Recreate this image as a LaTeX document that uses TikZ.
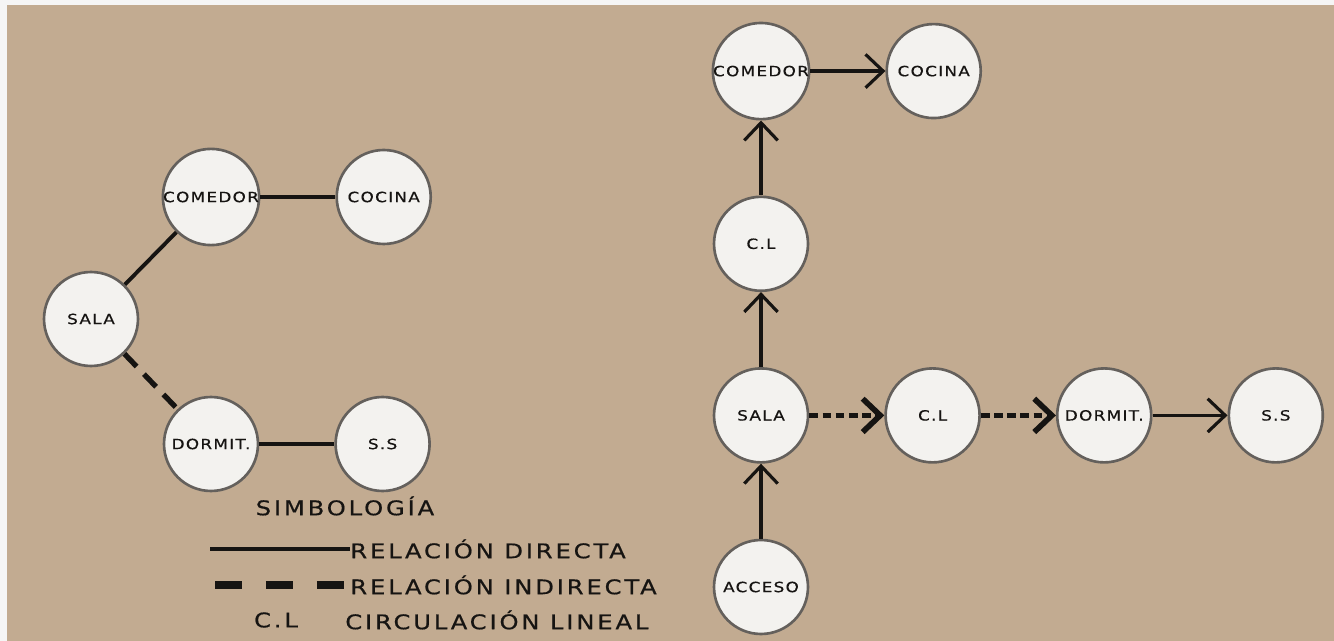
\documentclass[tikz,border=0pt]{standalone}
\usepackage{fontspec}
\usetikzlibrary{arrows.meta, positioning}
\newfontfamily\roomfont{DejaVu Sans}[FakeStretch=1.2, LetterSpace=9, FakeBold=0.6]
\newfontfamily\legendfont{DejaVu Sans}[FakeStretch=1.2, LetterSpace=14, FakeBold=0.6]
\definecolor{paper}{RGB}{194,171,145}
\definecolor{roomfill}{RGB}{243,242,239}
\definecolor{ringgray}{RGB}{100,96,92}
\definecolor{inkblack}{RGB}{22,20,18}

\begin{document}
\begin{tikzpicture}[
    x=0.02cm, y=-0.02cm, node distance=1.5cm,
    >={Straight Barb[length=10pt,width=19pt]},
    room/.style={circle, draw=ringgray, line width=1.5pt, fill=roomfill,
                 minimum size=1.88cm, inner sep=0pt, text=inkblack,
                 font=\roomfont\fontsize{8}{9.6}\selectfont},
    direct/.style={draw=inkblack, line width=2.2pt},
    indirect/.style={draw=inkblack, line width=3pt, dash pattern=on 10pt off 6pt},
    flow/.style={->, draw=inkblack, line width=1.8pt},
    dashflow/.style={-{Straight Barb[length=10pt,width=19pt,line width=3.2pt]},
                     draw=inkblack, line width=2.4pt, dash pattern=on 5pt off 2.5pt},
    legend/.style={inner sep=0pt, text=inkblack,
                   font=\legendfont\fontsize{11.5}{13}\selectfont}
  ]
  % background
  \fill[white!92!gray] (0,0) rectangle (1334,641);
  \fill[paper] (7,5) rectangle (1334,641);
  \useasboundingbox (0,0) rectangle (1334,641);

  % relation diagram (left)
  \node[room] (lsala) at (91,319) {SALA};
  \node[room] (lcomedor) at (211,197) {COMEDOR};
  \node[room, right=of lcomedor] (lcocina) {COCINA};
  \node[room] (ldormit) at (211,444) {DORMIT.};
  \node[room, right=of ldormit] (lss) {S.S};

  \draw[direct] (lsala) -- (lcomedor);
  \draw[direct] (lcomedor) -- (lcocina);
  \draw[indirect] (lsala) -- (ldormit);
  \draw[direct] (ldormit) -- (lss);

  % circulation diagram (right)
  \node[room] (acceso) at (761,587) {ACCESO};
  \node[room, above=of acceso] (sala) {SALA};
  \node[room, above=of sala] (clup) {C.L};
  \node[room, above=of clup] (comedor) {COMEDOR};
  \node[room, right=of comedor] (cocina) {COCINA};
  \node[room, right=of sala] (clmid) {C.L};
  \node[room, right=of clmid] (dormit) {DORMIT.};
  \node[room, right=of dormit] (ss) {S.S};

  \draw[flow] (acceso) -- (sala);
  \draw[flow] (sala) -- (clup);
  \draw[flow] (clup) -- (comedor);
  \draw[flow] (comedor) -- (cocina);
  \draw[dashflow] (sala) -- (clmid);
  \draw[dashflow] (clmid) -- (dormit);
  \draw[flow] (dormit) -- (ss);

  % legend
  \node[legend] (simbologia) at (345,506) {SIMBOLOGÍA};
  \coordinate (solidstart) at (210,549);
  \node[legend, anchor=west] (reldirecta) at (350,549) {RELACIÓN DIRECTA};
  \draw[inkblack, line width=1.8pt] (solidstart) -- (reldirecta.west);
  \coordinate (dashstart) at (215,585);
  \node[legend, anchor=west] (relindirecta) at (350,585) {RELACIÓN INDIRECTA};
  \draw[inkblack, line width=4pt, dash pattern=on 15.5pt off 13.5pt]
    (dashstart) -- (relindirecta.west);
  \node[legend] (clkey) at (276,620) {C.L};
  \node[legend, anchor=west] (circlineal) at (345,620) {CIRCULACIÓN LINEAL};
\end{tikzpicture}
\end{document}
